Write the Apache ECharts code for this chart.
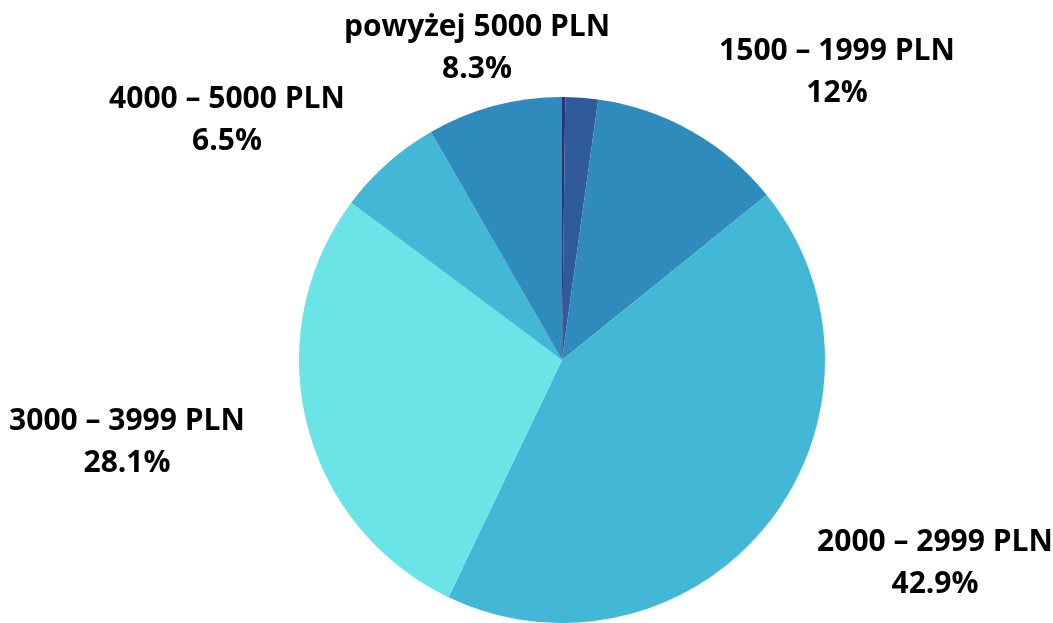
<!DOCTYPE html>
<html><head><meta charset="utf-8">
<script src="https://cdn.jsdelivr.net/npm/echarts@6/dist/echarts.min.js"></script>
<style>html,body{margin:0;padding:0;background:#fff}#c{width:1053px;height:623px}</style>
</head><body><div id="c"></div>
<script>
const categories = ['poniżej 1000 PLN', '1000 – 1499 PLN', '1500 – 1999 PLN', '2000 – 2999 PLN', '3000 – 3999 PLN', '4000 – 5000 PLN', 'powyżej 5000 PLN'];
const values = [0.2, 2.0, 12, 42.9, 28.1, 6.5, 8.3];
const showLabel = [false, false, true, true, true, true, true];
const colors = ['#2b3479', '#2f5b9b', '#2e8bbb', '#42b8d6', '#6be4e8', '#42b8d6', '#2e8bbb'];
const labelPos = [null, null, [837, 72], [935, 563], [127, 442], [227, 120], [477, 48]];

const chart = echarts.init(document.getElementById('c'), null, {renderer: 'canvas'});
chart.setOption({
  animation: false,
  series: [{
    type: 'pie',
    center: [562, 360],
    radius: 263,
    startAngle: 90,
    clockwise: true,
    avoidLabelOverlap: false,
    data: categories.map((n, i) => ({
      name: n, value: values[i],
      itemStyle: {color: colors[i]},
      label: {show: showLabel[i]}
    })),
    label: {
      position: 'outside',
      formatter: p => p.name + '\n' + p.value + '%',
      fontFamily: 'Open Sans',
      fontWeight: 'bold',
      fontSize: 30,
      lineHeight: 42,
      color: '#000',
      align: 'center'
    },
    labelLine: {show: false},
    labelLayout: p => {
      const pos = labelPos[p.dataIndex];
      if (!pos) return {};
      return {x: pos[0], y: pos[1], align: 'center', verticalAlign: 'middle'};
    },
    emphasis: {disabled: true}
  }]
});
</script></body></html>
